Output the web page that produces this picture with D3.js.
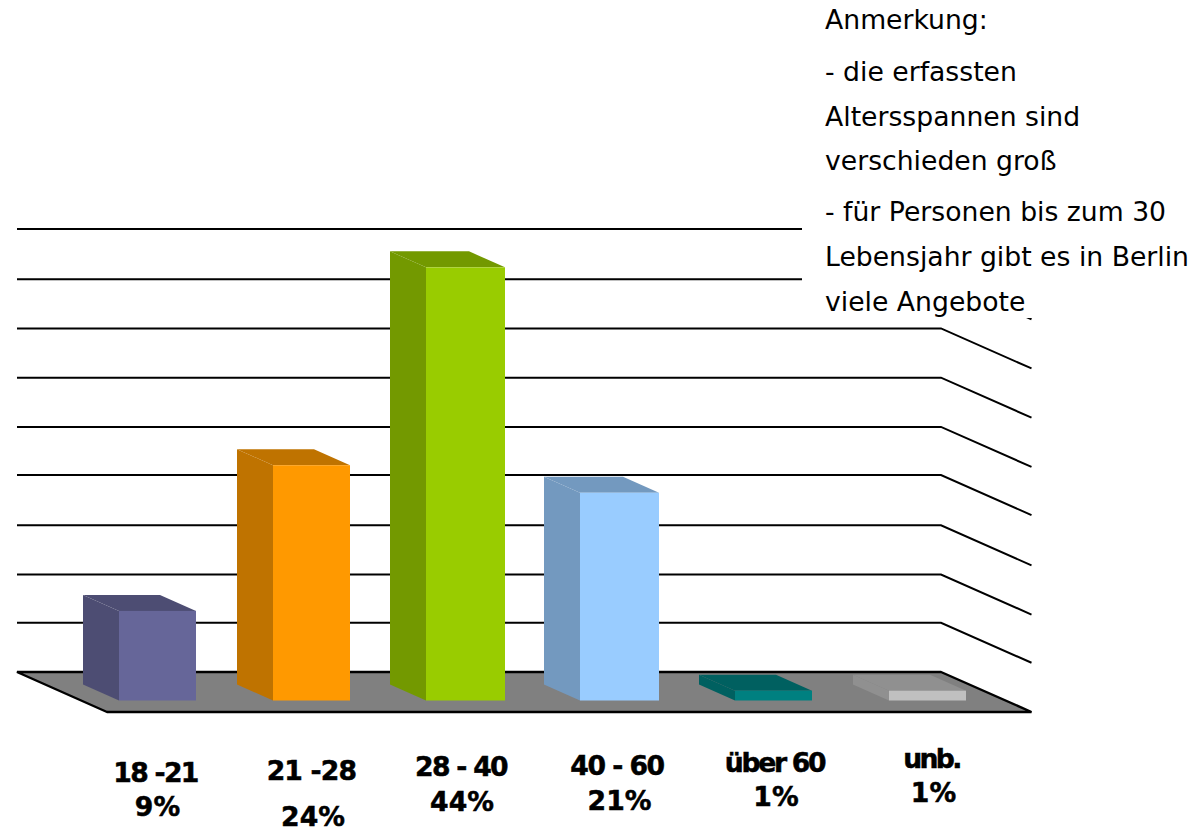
<!DOCTYPE html>
<html>
<head>
<meta charset="utf-8">
<script src="https://cdn.jsdelivr.net/npm/d3@7"></script>
<style>
  body { margin: 0; background: white; }
  svg { display: block; }
  text { font-family: "DejaVu Sans", sans-serif; fill: black; }
</style>
</head>
<body>
<div id="visualization"></div>
<script>
// data
let categories = ["18 -21", "21 -28", "28 - 40", "40 - 60", "über 60", "unb."];
let percents = [9, 24, 44, 21, 1, 1];
let gridValues = [0, 5, 10, 15, 20, 25, 30, 35, 40, 45];
let noteLines = [
  "Anmerkung:",
  "- die erfassten",
  "Altersspannen sind",
  "verschieden groß",
  "- für Personen bis zum 30",
  "Lebensjahr gibt es in Berlin",
  "viele Angebote"
];

// styles
let frontColors = ["#666699", "#ff9900", "#99cc00", "#99ccff", "#008080", "#c0c0c0"];
let sideColors = ["#4d4d73", "#bf7300", "#739900", "#7399bf", "#006060", "#909090"];

// label placement, offset from the bar centre and baselines
let labelDx = [-2, 0, -4.5, -2.5, 1, 4];
let labelY = [782, 780, 776, 775, 772, 768];
let labelSpacing = [-1.7, -0.8, -1.7, -1.5, -2.3, -2.7];
let percentDx = [0, 1.5, -3.5, 0, 2.5, 6];
let percentY = [816, 826, 811, 810, 806, 802];
let noteY = [29, 81, 126, 170, 221, 266, 311];
// the original snaps its lines and bars a bit unevenly
let gridDy = [0, 0, 1, 1, 0, 1, 1, 1, 1, 0];
let barExtra = [0, 0, 2, 2, 0, 0];
let barTopDy = [-1, 1, 0, -1, 0, 0];

let w = 1196, h = 831;

let viz = d3.select("#visualization")
  .append("svg")
    .attr("width", w)
    .attr("height", h)
;

let xScale = d3.scaleBand()
  .domain(categories)
  .range([80.5, 1004.5])
  .paddingInner(0.5)
  .paddingOuter(0.25)
;
// y of a value on the front of the bars
let yScale = d3.scaleLinear().domain([0, 45]).range([700.5, 257.5]);

// depth of the bars and of the floor
let barDepth = [36, 16];
let floorDepth = [90, 40];
let wallLeft = 17, wallRight = 941, wallShift = 28.5;

function wallY(v){
  return yScale(v) - wallShift;
}
function barLeft(d, i){
  return xScale(d) - barExtra[i]/2;
}
function barWidth(i){
  return xScale.bandwidth() + barExtra[i];
}
function barTop(i){
  return yScale(percents[i]) + barTopDy[i];
}

// grid lines, back wall and right side
viz.append("g").attr("class", "grid")
  .selectAll("path")
  .data(gridValues.slice(1))
  .enter()
  .append("path")
    .attr("d", function(d, i){
      let y = wallY(d) + gridDy[i + 1];
      return d3.line()([[wallLeft, y], [wallRight, y], [wallRight + floorDepth[0] + 0.5, y + floorDepth[1]]]);
    })
    .attr("fill", "none")
    .attr("stroke", "black")
    .attr("stroke-width", 2)
;

// floor
let y0 = wallY(0);
viz.append("path")
  .attr("d", d3.line()([
    [wallLeft, y0],
    [wallRight, y0],
    [wallRight + floorDepth[0] + 0.5, y0 + floorDepth[1]],
    [wallLeft + floorDepth[0], y0 + floorDepth[1]]
  ]) + "Z")
  .attr("fill", "#808080")
  .attr("stroke", "black")
  .attr("stroke-width", 2.4)
  .attr("stroke-linejoin", "bevel")
;

// white box of the note hides the top grid lines
viz.append("rect")
  .attr("x", 802)
  .attr("y", 0)
  .attr("width", w - 802)
  .attr("height", 318)
  .attr("fill", "white")
;

// bars
let bars = viz.selectAll(".bar")
  .data(categories)
  .enter()
  .append("g")
    .attr("class", "bar")
;

bars.append("path")
  .attr("class", "top")
  .attr("d", function(d, i){
    let x1 = barLeft(d, i), x2 = x1 + barWidth(i), y = barTop(i);
    return d3.line()([[x1, y], [x2, y], [x2 - barDepth[0], y - barDepth[1]], [x1 - barDepth[0], y - barDepth[1]]]) + "Z";
  })
  .attr("fill", function(d, i){ return sideColors[i] })
;
bars.append("path")
  .attr("class", "side")
  .attr("d", function(d, i){
    let x1 = barLeft(d, i), y = barTop(i), b = yScale(0);
    return d3.line()([[x1, y], [x1, b], [x1 - barDepth[0], b - barDepth[1]], [x1 - barDepth[0], y - barDepth[1]]]) + "Z";
  })
  .attr("fill", function(d, i){ return sideColors[i] })
;
bars.append("rect")
  .attr("class", "front")
  .attr("x", barLeft)
  .attr("y", function(d, i){ return barTop(i) })
  .attr("width", function(d, i){ return barWidth(i) })
  .attr("height", function(d, i){ return yScale(0) - barTop(i) })
  .attr("fill", function(d, i){ return frontColors[i] })
;

// category labels
let labels = viz.selectAll(".label")
  .data(categories)
  .enter()
  .append("g")
    .attr("class", "label")
    .attr("text-anchor", "middle")
    .attr("font-weight", "bold")
    .attr("font-size", "26.67px")
    .attr("stroke", "black")
    .attr("stroke-width", 0.5)
;
labels.append("text")
  .text(function(d){ return d })
  .attr("x", function(d, i){ return xScale(d) + xScale.bandwidth()/2 + labelDx[i] })
  .attr("y", function(d, i){ return labelY[i] })
  .attr("letter-spacing", function(d, i){ return labelSpacing[i] + "px" })
;
labels.append("text")
  .text(function(d, i){ return percents[i] + "%" })
  .attr("x", function(d, i){ return xScale(d) + xScale.bandwidth()/2 + percentDx[i] })
  .attr("y", function(d, i){ return percentY[i] })
;

// note
viz.append("g").attr("class", "note")
  .selectAll("text")
  .data(noteLines)
  .enter()
  .append("text")
    .text(function(d){ return d })
    .attr("x", 825)
    .attr("y", function(d, i){ return noteY[i] })
    .attr("font-size", "26.67px")
;
</script>
</body>
</html>
